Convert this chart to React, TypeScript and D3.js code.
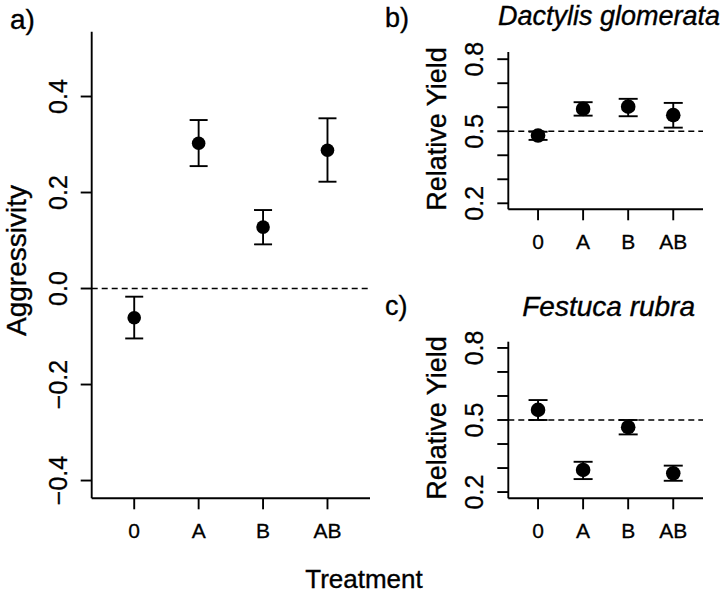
import * as d3 from "d3";
import React from "react";

const treatments = ["0", "A", "B", "AB"];

// panel a: aggressivity, mean and error bar ends
const aggMean = [-0.061, 0.3025, 0.128, 0.288];
const aggLow = [-0.104, 0.255, 0.092, 0.2225];
const aggHigh = [-0.017, 0.351, 0.1635, 0.3546];
const aggTicks = [-0.4, -0.2, 0.0, 0.2, 0.4];

// panel b: Dactylis glomerata relative yield
const dactMean = [0.482, 0.593, 0.6025, 0.567];
const dactLow = [0.464, 0.565, 0.5625, 0.515];
const dactHigh = [0.498, 0.621, 0.635, 0.618];

// panel c: Festuca rubra relative yield
const festMean = [0.542, 0.292, 0.47, 0.278];
const festLow = [0.5, 0.254, 0.44, 0.247];
const festHigh = [0.583, 0.326, 0.5, 0.31];

const ryTicks = [0.2, 0.3, 0.4, 0.5, 0.6, 0.7, 0.8];
const ryLabeled = [0.2, 0.5, 0.8];

const FONT = "Liberation Sans, Arial, Helvetica, sans-serif";
const LW = 1.9;

interface PanelProps {
    left: number;
    right: number;
    top: number;
    bottom: number;
    yDomain: [number, number];
    mean: number[];
    low: number[];
    high: number[];
    ticks: number[];
    labeled: number[];
    refLine: number;
    fmt: (v: number) => string;
    r: number;
    cap: number;
}

function Panel(p: PanelProps) {
    const x = d3.scaleLinear().domain([0.34, 4.66]).range([p.left, p.right]);
    const y = d3.scaleLinear().domain(p.yDomain).range([p.bottom, p.top]);
    const tickLen = 11;
    return (
        <g>
            {/* axes */}
            <line x1={p.left} x2={p.left} y1={p.top} y2={p.bottom} stroke="#000" strokeWidth={LW} />
            <line x1={p.left} x2={p.right} y1={p.bottom} y2={p.bottom} stroke="#000" strokeWidth={LW} />
            {p.ticks.map((t) => (
                <line key={"yt" + t} x1={p.left - tickLen} x2={p.left} y1={y(t)} y2={y(t)} stroke="#000" strokeWidth={LW} />
            ))}
            {p.labeled.map((t) => (
                <text key={"yl" + t} transform={`translate(${p.left - 25},${y(t)}) rotate(-90)`}
                    textAnchor="middle" fontSize={25} fontFamily={FONT} stroke="#000" strokeWidth={0.3}>{p.fmt(t)}</text>
            ))}
            {treatments.map((t, i) => (
                <g key={"xt" + t}>
                    <line x1={x(i + 1)} x2={x(i + 1)} y1={p.bottom} y2={p.bottom + tickLen} stroke="#000" strokeWidth={LW} />
                    <text x={x(i + 1)} y={p.bottom + 40} textAnchor="middle" fontSize={21} fontFamily={FONT}
                        stroke="#000" strokeWidth={0.3}>{t}</text>
                </g>
            ))}
            {/* reference line */}
            <line x1={p.left} x2={p.right} y1={y(p.refLine)} y2={y(p.refLine)} stroke="#000" strokeWidth={1.6} strokeDasharray="6,4" />
            {/* error bars and means */}
            {p.mean.map((m, i) => (
                <g key={"pt" + i}>
                    <line x1={x(i + 1)} x2={x(i + 1)} y1={y(p.low[i])} y2={y(p.high[i])} stroke="#000" strokeWidth={LW} />
                    <line x1={x(i + 1) - p.cap} x2={x(i + 1) + p.cap} y1={y(p.low[i])} y2={y(p.low[i])} stroke="#000" strokeWidth={LW} />
                    <line x1={x(i + 1) - p.cap} x2={x(i + 1) + p.cap} y1={y(p.high[i])} y2={y(p.high[i])} stroke="#000" strokeWidth={LW} />
                    <circle cx={x(i + 1)} cy={y(m)} r={p.r} fill="#000" />
                </g>
            ))}
        </g>
    );
}

const fmtAgg = (v: number) => d3.format(".1f")(v).replace("-", "\u2212");
const fmtRy = (v: number) => d3.format(".1f")(v);

export default function App() {
    return (
        <svg width={725} height={594} style={{ position: "absolute", left: 0, top: 0, background: "#fff" }}>
            <Panel left={91.7} right={370} top={31.7} bottom={498.3} yDomain={[-0.437, 0.535]}
                mean={aggMean} low={aggLow} high={aggHigh} ticks={aggTicks} labeled={aggTicks}
                refLine={0} fmt={fmtAgg} r={6.8} cap={9} />
            <Panel left={508.3} right={703} top={52} bottom={209.3} yDomain={[0.175, 0.83]}
                mean={dactMean} low={dactLow} high={dactHigh} ticks={ryTicks} labeled={ryLabeled}
                refLine={0.5} fmt={fmtRy} r={7.3} cap={9.5} />
            <Panel left={508.3} right={703} top={341.7} bottom={498.3} yDomain={[0.174, 0.826]}
                mean={festMean} low={festLow} high={festHigh} ticks={ryTicks} labeled={ryLabeled}
                refLine={0.5} fmt={fmtRy} r={7.3} cap={9.5} />

            <g fontFamily={FONT} stroke="#000" strokeWidth={0.35}>
                {/* panel letters */}
                <text x={10} y={29} fontSize={28}>a)</text>
                <text x={385} y={26.5} fontSize={27}>b)</text>
                <text x={385} y={315} fontSize={27}>c)</text>

                {/* species titles */}
                <text x={720} y={25} textAnchor="end" fontSize={27} fontStyle="italic">Dactylis glomerata</text>
                <text x={695} y={316} textAnchor="end" fontSize={28} fontStyle="italic">Festuca rubra</text>

                {/* axis titles */}
                <text transform="translate(26,260.5) rotate(-90)" textAnchor="middle" fontSize={28}>Aggressivity</text>
                <text transform="translate(446,129) rotate(-90)" textAnchor="middle" fontSize={27}>Relative Yield</text>
                <text transform="translate(446,418) rotate(-90)" textAnchor="middle" fontSize={27}>Relative Yield</text>
                <text x={364} y={588} textAnchor="middle" fontSize={26}>Treatment</text>
            </g>
        </svg>
    );
}
